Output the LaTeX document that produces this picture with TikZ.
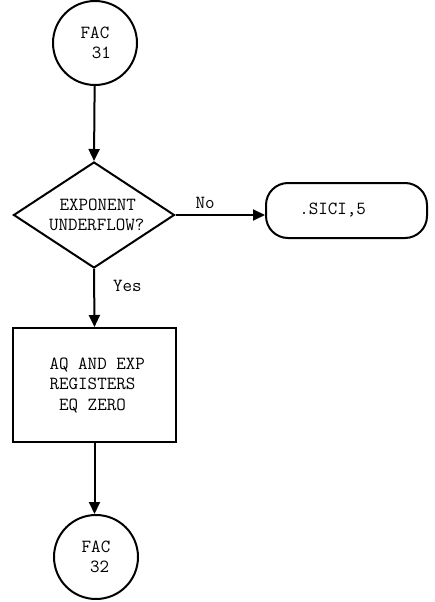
\documentclass[tikz,border=0pt]{standalone}
\usepackage{fontspec}
\usetikzlibrary{shapes.geometric,arrows.meta}
\begin{document}
\begin{tikzpicture}[x=1pt,y=-1pt,
  every node/.style={font=\ttfamily\fontsize{18.5}{20.5}\selectfont},
  ln/.style={line width=2pt},
  arr/.style={ln,-{Triangle[width=11pt,length=12pt]}},
  conn/.style={circle,draw,ln,minimum size=84pt,inner sep=0pt,align=center},
  decision/.style={diamond,aspect=1.52,draw,ln,minimum width=161pt,minimum height=106pt,inner sep=0pt,align=center},
  process/.style={rectangle,draw,ln,minimum width=163pt,minimum height=114pt,align=left},
  terminal/.style={rectangle,rounded corners=22pt,draw,ln,minimum width=161pt,minimum height=55pt},
  lbl/.style={inner sep=0pt}]
\useasboundingbox (0,0) rectangle (434,602);
\node[conn] (c31) at (95,43) {FAC\\\hspace*{0.7em}31};
\node[decision] (dec) at (94,215) {\hspace*{0.4em}EXPONENT\\\hspace*{0.3em}UNDERFLOW?};
\node[terminal] (sici) at (346.5,210.5) {\raisebox{-0.25em}{\hspace*{-1.5em}.SICI,5}};
\node[process] (proc) at (94.5,385) {\hspace*{0.3em}AQ AND EXP\\\hspace*{0.3em}REGISTERS\\\hspace*{0.3em}~EQ ZERO};
\node[conn] (c32) at (96,557) {FAC\\\hspace*{0.4em}32};
\draw[arr] (c31) -- (dec.north);
\draw[arr] (dec.east) -- (sici.west |- dec.east) node[lbl,pos=0.33,above=5pt] (no) {No};
\draw[arr] (dec.south) -- (proc.north) node[lbl,pos=0.3,right=18pt] (yes) {Yes};
\draw[arr] (proc.south) -- (proc.south |- c32.north);
\end{tikzpicture}
\end{document}
